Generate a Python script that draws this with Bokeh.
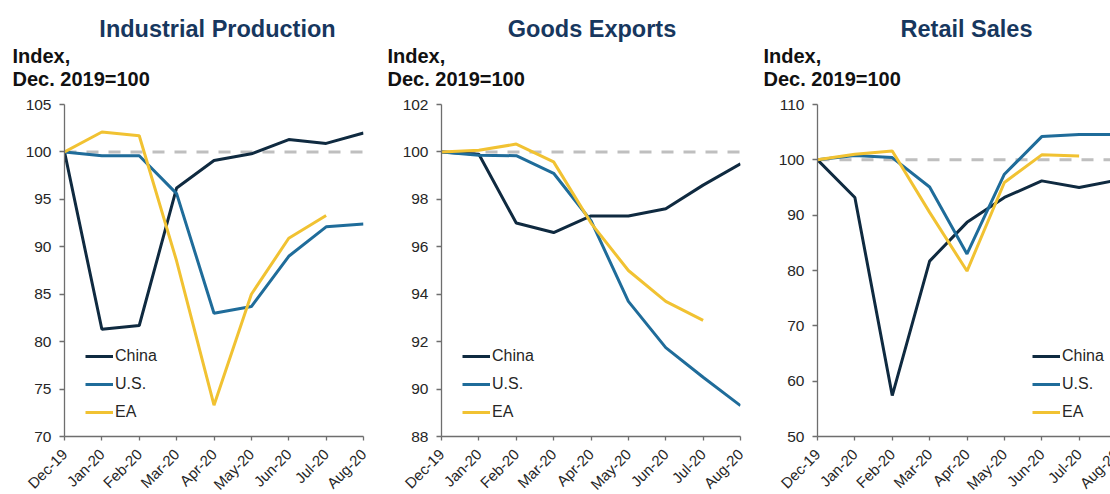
from math import pi
from bokeh.plotting import figure
from bokeh.models import (Range1d, FixedTicker, Span, Label, LabelSet,
                          ColumnDataSource, Legend, LegendItem)
from bokeh.layouts import row, column
from bokeh.core.properties import value
from bokeh.embed import file_html
from bokeh.resources import INLINE

# ---------------- data ----------------
months = ["Dec-19", "Jan-20", "Feb-20", "Mar-20", "Apr-20",
          "May-20", "Jun-20", "Jul-20", "Aug-20"]
series_names = ["China", "U.S.", "EA"]

ip_china = [100, 81.3, 81.7, 96.2, 99.1, 99.8, 101.3, 100.9, 102.0]
ip_us = [100, 99.6, 99.6, 95.6, 83.0, 83.7, 89.0, 92.1, 92.4]
ip_ea = [100, 102.1, 101.7, 88.5, 73.3, 85.0, 90.9, 93.3]

ex_china = [100, 99.9, 97.0, 96.6, 97.3, 97.3, 97.6, 98.6, 99.5]
ex_us = [100, 99.86, 99.84, 99.1, 97.1, 93.7, 91.75, 90.5, 89.3]
ex_ea = [100, 100.07, 100.33, 99.58, 97.0, 95.0, 93.7, 92.9]

rs_china = [100, 93.2, 57.4, 81.7, 88.7, 93.2, 96.2, 95.0, 96.3]
rs_us = [100, 100.8, 100.4, 95.1, 83.0, 97.4, 104.2, 104.6, 104.6]
rs_ea = [100, 101.0, 101.6, 90.5, 79.9, 95.9, 100.9, 100.7]

titles = ["Industrial Production", "Goods Exports", "Retail Sales"]
unit_lines = ["Index,", "Dec. 2019=100"]
y_axes = [(70, 105, 5), (88, 102, 2), (50, 110, 10)]
baseline = 100

# ---------------- style / layout ----------------
FONT = "Liberation Sans"
COLORS = ["#0F2A40", "#1F6C9A", "#F1C232"]
TITLE_COLOR = "#17375E"
TEXT_COLOR = "#262626"
AXIS_COLOR = "#6E6E6E"
TOTAL_W = 1110
TOTAL_H = 494
HEAD_H = 92
FOOT_H = 49
PLOT_H = TOTAL_H - HEAD_H - FOOT_H
FRAME_TOP = 104
FRAME_BOTTOM = 436
FRAME_W = 299
N_INT = len(months) - 1
PPU = FRAME_W / N_INT
frame_lefts = [64, 441, 817]
canvas_lefts = [0, 385, 761]
title_centers = [217, 591.5, 966]
unit_lefts = [12, 387, 763]


def make_header():
    h = figure(width=TOTAL_W, height=HEAD_H, x_axis_type=None,
               y_axis_type=None, min_border=0, toolbar_location=None,
               output_backend="svg", outline_line_color=None,
               x_range=Range1d(0, TOTAL_W), y_range=Range1d(0, HEAD_H))
    h.xgrid.visible = False
    h.ygrid.visible = False
    for t, cx, ux in zip(titles, title_centers, unit_lefts):
        h.add_layout(Label(x=cx, y=HEAD_H - 28, x_units="screen",
                           y_units="screen", text=t, text_align="center",
                           text_baseline="middle", text_font=FONT,
                           text_font_style="bold", text_font_size="23.5px",
                           text_color=TITLE_COLOR))
        for line, mid in zip(unit_lines, [55, 78]):
            h.add_layout(Label(x=ux, y=HEAD_H - mid, x_units="screen",
                               y_units="screen", text=line,
                               text_align="left", text_baseline="middle",
                               text_font=FONT, text_font_style="bold",
                               text_font_size="20px", text_color="#111111"))
    return h


def make_footer(k, width):
    c, L = canvas_lefts[k], frame_lefts[k]
    f = figure(width=width, height=FOOT_H, x_axis_type=None,
               y_axis_type=None, min_border=0, toolbar_location=None,
               output_backend="svg", outline_line_color=None,
               x_range=Range1d((c - L) / PPU, (c + width - L) / PPU),
               y_range=Range1d(0, FOOT_H))
    f.xgrid.visible = False
    f.ygrid.visible = False
    src = ColumnDataSource(dict(x=list(range(len(months))), text=months))
    f.add_layout(LabelSet(x="x", y=TOTAL_H - 451, y_units="screen",
                          text="text", source=src, angle=pi / 4,
                          text_align="right", text_baseline="middle",
                          text_font=value(FONT), text_font_size="15px",
                          text_color=TEXT_COLOR))
    return f


def make_panel(k, yspec, data, border_r, frame_w, legend_dx):
    y0, y1, step = yspec
    border_l = frame_lefts[k] - canvas_lefts[k]
    x_end = N_INT * frame_w / FRAME_W
    p = figure(width=border_l + frame_w + border_r, height=PLOT_H,
               x_range=Range1d(0, x_end), y_range=Range1d(y0, y1),
               min_border_left=border_l, min_border_right=border_r,
               min_border_top=FRAME_TOP - HEAD_H,
               min_border_bottom=TOTAL_H - FOOT_H - FRAME_BOTTOM,
               toolbar_location=None, output_backend="svg",
               outline_line_color=None, background_fill_color="white",
               border_fill_color="white")
    p.xgrid.visible = False
    p.ygrid.visible = False

    # y axis
    p.yaxis.ticker = FixedTicker(ticks=list(range(y0, y1 + 1, step)))
    p.yaxis.axis_line_color = AXIS_COLOR
    p.yaxis.axis_line_width = 1.3
    p.yaxis.major_tick_line_color = AXIS_COLOR
    p.yaxis.major_tick_line_width = 1.3
    p.yaxis.major_tick_out = 5
    p.yaxis.major_tick_in = 0
    p.yaxis.minor_tick_line_color = None
    p.yaxis.major_label_text_font = FONT
    p.yaxis.major_label_text_font_size = "15.5px"
    p.yaxis.major_label_text_color = TEXT_COLOR
    p.yaxis.major_label_standoff = 8

    # x axis (its month labels are drawn in the footer row)
    p.xaxis.ticker = FixedTicker(ticks=list(range(len(months))))
    p.xaxis.axis_line_color = AXIS_COLOR
    p.xaxis.axis_line_width = 1.3
    p.xaxis.major_tick_line_color = AXIS_COLOR
    p.xaxis.major_tick_line_width = 1.3
    p.xaxis.major_tick_out = 4
    p.xaxis.major_tick_in = 0
    p.xaxis.minor_tick_line_color = None
    p.xaxis.major_label_text_color = None
    p.xaxis.major_label_standoff = 0

    p.add_layout(Span(location=baseline, dimension="width",
                      line_color="#BFBFBF", line_width=3,
                      line_dash="12 10", level="underlay"))

    items = []
    for name, vals, col in zip(series_names, data, COLORS):
        r = p.line(list(range(len(vals))), vals, line_color=col,
                   line_width=3)
        items.append(LegendItem(label=name, renderers=[r]))

    legend = Legend(items=items, location=(legend_dx, 14),
                    orientation="vertical", glyph_width=28, glyph_height=20,
                    label_height=20, label_standoff=2, spacing=8,
                    padding=0, margin=0, border_line_color=None,
                    background_fill_alpha=0, label_text_font=FONT,
                    label_text_font_size="16px",
                    label_text_color=TEXT_COLOR)
    p.add_layout(legend)
    return p


b_r1 = canvas_lefts[1] - frame_lefts[0] - FRAME_W
b_r2 = canvas_lefts[2] - frame_lefts[1] - FRAME_W
w3 = TOTAL_W - frame_lefts[2]
p1 = make_panel(0, y_axes[0], [ip_china, ip_us, ip_ea], b_r1, FRAME_W, 21)
p2 = make_panel(1, y_axes[1], [ex_china, ex_us, ex_ea], b_r2, FRAME_W, 21)
p3 = make_panel(2, y_axes[2], [rs_china, rs_us, rs_ea], 0, w3, 215)

f1 = make_footer(0, canvas_lefts[1] - canvas_lefts[0])
f2 = make_footer(1, canvas_lefts[2] - canvas_lefts[1])
f3 = make_footer(2, TOTAL_W - canvas_lefts[2])

layout = column(make_header(), row(p1, p2, p3), row(f1, f2, f3))
open("out.html", "w").write(file_html(layout, INLINE))
